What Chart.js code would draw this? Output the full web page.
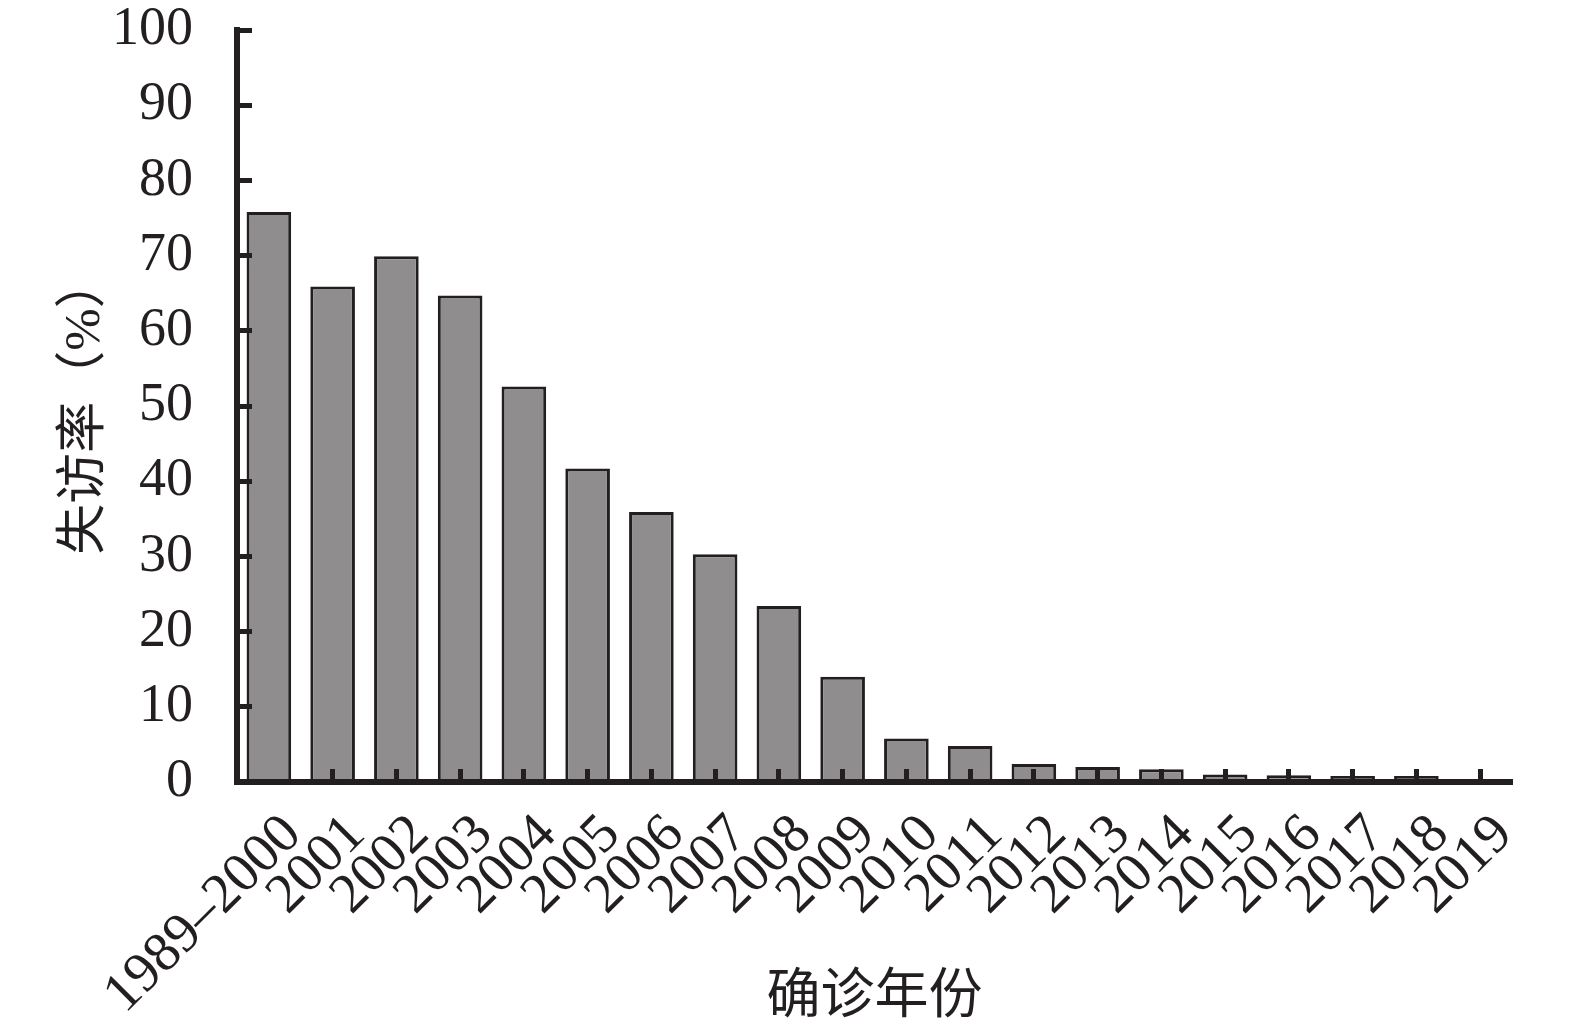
<!DOCTYPE html>
<html>
<head>
<meta charset="utf-8">
<script src="https://cdn.jsdelivr.net/npm/chart.js@4"></script>
<style>
    html, body { margin: 0; padding: 0; background: #fff; }
    #wrap { width: 1575px; height: 1031px; }
</style>
</head>
<body>
<div id="wrap"><canvas id="lossRate" width="1575" height="1031"></canvas></div>
<script>
const years = ['1989\u20132000', '2001', '2002', '2003', '2004', '2005', '2006', '2007', '2008', '2009',
    '2010', '2011', '2012', '2013', '2014', '2015', '2016', '2017', '2018', '2019'];
const lossRate = [75.8, 65.9, 69.9, 64.7, 52.6, 41.7, 35.9, 30.3, 23.4, 14.0,
    5.8, 4.8, 2.4, 2.0, 1.7, 1.0, 0.9, 0.8, 0.8, 0];
const yTicks = [0, 10, 20, 30, 40, 50, 60, 70, 80, 90, 100];

const ink = '#231f20';
const serif = '"Liberation Serif", "Times New Roman", "Noto Sans CJK SC", serif';

const chart = new Chart(
    document.getElementById('lossRate'),
    {
        type: 'bar',
        data: {
            labels: years,
            datasets: [
                {
                    label: '失访率',
                    data: lossRate,
                    backgroundColor: '#8f8d8e',
                    borderColor: ink,
                    borderWidth: 3,
                    borderSkipped: 'bottom',
                    barPercentage: 0.7,
                    categoryPercentage: 1
                }
            ]
        },
        options: {
            responsive: false,
            animation: false,
            layout: {
                padding: { left: 0, right: 63, top: 30, bottom: 0 }
            },
            plugins: {
                legend: { display: false },
                tooltip: { enabled: false }
            },
            scales: {
                x: {
                    offset: true,
                    grid: {
                        z: 1,
                        offset: false,
                        drawOnChartArea: false,
                        tickLength: -13,
                        tickWidth: 5,
                        tickColor: ctx => ctx.index === 0 ? 'rgba(0,0,0,0)' : ink
                    },
                    border: { display: true, color: ink, width: 6, z: 1 },
                    ticks: {
                        autoSkip: false,
                        minRotation: 45,
                        maxRotation: 45,
                        padding: 33,
                        labelOffset: 24,
                        color: ink,
                        font: { family: serif, size: 56 }
                    },
                    title: {
                        display: true,
                        text: '确诊年份',
                        color: ink,
                        padding: { top: 0, bottom: 6 },
                        font: { family: '"Noto Sans CJK SC", serif', size: 54 }
                    },
                    afterFit: scale => { scale.height = 249; }
                },
                y: {
                    min: 0,
                    max: 100,
                    afterBuildTicks: scale => { scale.ticks = yTicks.map(v => ({ value: v })); },
                    grid: {
                        z: 1,
                        drawOnChartArea: false,
                        tickLength: -15,
                        tickWidth: 5,
                        tickColor: ink
                    },
                    border: { display: true, color: ink, width: 6, z: 1 },
                    ticks: {
                        padding: 59,
                        color: ink,
                        font: { family: serif, size: 54, lineHeight: 1 }
                    },
                    title: {
                        display: true,
                        text: '失访率（%）',
                        color: ink,
                        padding: { top: 55, bottom: 0 },
                        font: { family: serif, size: 51 }
                    },
                    afterFit: scale => {
                        scale.width = 237;
                        // keep the label padding from pushing the plot down
                        scale.paddingTop = 20;
                        scale.paddingBottom = 20;
                    }
                }
            }
        }
    }
);
</script>
</body>
</html>
